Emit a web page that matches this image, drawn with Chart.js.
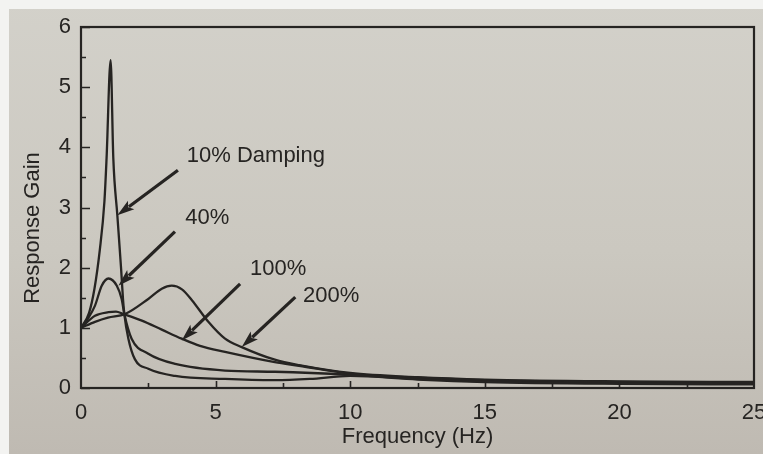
<!DOCTYPE html>
<html>
<head>
<meta charset="utf-8">
<script src="https://cdn.jsdelivr.net/npm/chart.js@4/dist/chart.umd.min.js"></script>
<style>
  html, body { margin: 0; padding: 0; }
  body {
    width: 763px; height: 454px; overflow: hidden;
    background: linear-gradient(to bottom, #d3d1ca 0%, #cbc8c0 55%, #bfbab2 100%);
  }
  .edge { position: absolute; left: 0; top: 0; width: 763px; height: 454px;
          border-top: 9px solid #f3f3f1; border-left: 9px solid #f3f3f1; box-sizing: border-box; }
  canvas { position: absolute; left: 0; top: 0; }
</style>
</head>
<body>
<div class="edge"></div>
<canvas id="gainChart" width="763" height="454"></canvas>
<script>
// frequency (Hz) and response gain for each damping ratio
const freq10 = [0, 0.3, 0.5, 0.7, 0.87, 0.95, 1.1, 1.2, 1.35, 1.49, 1.56, 1.61, 1.76, 2.0, 2.5, 3.5, 5.35, 7.2, 8.5, 10, 12.5, 15, 20, 25];
const gain10 = [1.0, 1.25, 1.65, 2.3, 3.1, 3.82, 5.45, 3.82, 2.87, 1.98, 1.48, 1.23, 0.82, 0.48, 0.32, 0.2, 0.15, 0.13, 0.15, 0.2, 0.14, 0.1, 0.07, 0.06];

const freq40 = [0, 0.25, 0.52, 0.77, 1.02, 1.33, 1.51, 1.61, 1.88, 2.5, 3.5, 5.35, 7.2, 10, 12.5, 15, 20, 25];
const gain40 = [1.0, 1.15, 1.37, 1.7, 1.82, 1.7, 1.48, 1.23, 0.82, 0.57, 0.4, 0.29, 0.27, 0.22, 0.15, 0.11, 0.08, 0.07];

const freq100 = [0, 0.52, 1.02, 1.3, 1.57, 2.26, 3.0, 3.74, 4.42, 5.35, 7.2, 8.1, 10, 12.5, 15, 20, 25];
const gain100 = [1.0, 1.2, 1.26, 1.27, 1.23, 1.12, 0.97, 0.82, 0.7, 0.6, 0.43, 0.37, 0.24, 0.17, 0.13, 0.1, 0.08];

const freq200 = [0, 0.52, 1.0, 1.64, 2.5, 3.0, 3.37, 3.75, 4.12, 4.73, 5.35, 5.97, 7.2, 8.1, 10, 12.5, 15, 20, 25];
const gain200 = [1.0, 1.1, 1.17, 1.23, 1.48, 1.65, 1.7, 1.64, 1.46, 1.1, 0.82, 0.68, 0.47, 0.38, 0.25, 0.18, 0.14, 0.11, 0.1];

const xTicks = [0, 5, 10, 15, 20, 25];
const yTicks = [0, 1, 2, 3, 4, 5, 6];

const calloutText = ['10% Damping', '40%', '100%', '200%'];

const ink = '#262422';
const font = "'Liberation Sans', Arial, sans-serif";

function pts(xs, ys) {
    return xs.map((x, i) => ({ x: x, y: ys[i] }));
}

function curve(label, xs, ys) {
    return {
        label: label,
        data: pts(xs, ys),
        borderColor: ink,
        borderWidth: 2.3,
        pointRadius: 0,
        fill: false,
        showLine: true,
        cubicInterpolationMode: 'monotone'
    };
}

// callouts: text anchor and arrow tail/tip, in axis units
const callouts = [
    { text: calloutText[0], at: [3.93, 3.85], from: [3.6, 3.62], to: [1.35, 2.87] },
    { text: calloutText[1], at: [3.87, 2.82], from: [3.49, 2.6], to: [1.39, 1.7] },
    { text: calloutText[2], at: [6.28, 1.98], from: [5.91, 1.73], to: [3.74, 0.79] },
    { text: calloutText[3], at: [8.25, 1.53], from: [7.96, 1.51], to: [5.97, 0.68] }
];

// frame, inward ticks, y title and arrow callouts
const framePlugin = {
    id: 'frame',
    afterDatasetsDraw(chart) {
        const { ctx, chartArea: a, scales: { x, y } } = chart;
        ctx.save();
        ctx.strokeStyle = ink;
        ctx.lineWidth = 2.2;
        ctx.strokeRect(a.left, a.top, a.right - a.left, a.bottom - a.top);

        ctx.beginPath();
        for (let v = 0; v <= 6; v += 0.5) {
            const py = Math.round(y.getPixelForValue(v)) + 0.5;
            const len = Number.isInteger(v) ? 9 : 5;
            ctx.moveTo(a.left, py);
            ctx.lineTo(a.left + len, py);
        }
        for (let v = 2.5; v < 25; v += 2.5) {
            const px = Math.round(x.getPixelForValue(v)) + 0.5;
            const len = v % 5 === 0 ? 7 : 5;
            ctx.moveTo(px, a.bottom);
            ctx.lineTo(px, a.bottom - len);
        }
        ctx.lineWidth = 1.6;
        ctx.stroke();

        ctx.fillStyle = ink;

        // y axis title sits a little below the middle of the axis
        ctx.save();
        ctx.translate(33, 228);
        ctx.rotate(-Math.PI / 2);
        ctx.font = '22px ' + font;
        ctx.textAlign = 'center';
        ctx.textBaseline = 'middle';
        ctx.fillText('Response Gain', 0, 0);
        ctx.restore();

        ctx.font = '22px ' + font;
        ctx.textBaseline = 'middle';
        callouts.forEach(c => {
            ctx.fillText(c.text, x.getPixelForValue(c.at[0]), y.getPixelForValue(c.at[1]));

            const x0 = x.getPixelForValue(c.from[0]), y0 = y.getPixelForValue(c.from[1]);
            const x1 = x.getPixelForValue(c.to[0]), y1 = y.getPixelForValue(c.to[1]);
            const ang = Math.atan2(y1 - y0, x1 - x0);
            const head = 18;
            ctx.beginPath();
            ctx.moveTo(x0, y0);
            ctx.lineTo(x1 - Math.cos(ang) * head * 0.8, y1 - Math.sin(ang) * head * 0.8);
            ctx.lineWidth = 3.2;
            ctx.stroke();
            ctx.beginPath();
            ctx.moveTo(x1, y1);
            ctx.lineTo(x1 - head * Math.cos(ang - 0.3), y1 - head * Math.sin(ang - 0.3));
            ctx.lineTo(x1 - head * 0.75 * Math.cos(ang), y1 - head * 0.75 * Math.sin(ang));
            ctx.lineTo(x1 - head * Math.cos(ang + 0.3), y1 - head * Math.sin(ang + 0.3));
            ctx.closePath();
            ctx.fill();
        });
        ctx.restore();
    }
};

new Chart(document.getElementById('gainChart'), {
    type: 'scatter',
    data: {
        datasets: [
            curve('10%', freq10, gain10),
            curve('40%', freq40, gain40),
            curve('100%', freq100, gain100),
            curve('200%', freq200, gain200)
        ]
    },
    options: {
        responsive: false,
        animation: false,
        layout: { padding: { left: 0, top: 27, right: 9, bottom: 0 } },
        plugins: { legend: { display: false }, tooltip: { enabled: false } },
        scales: {
            x: {
                type: 'linear',
                min: 0, max: 25,
                afterBuildTicks: s => { s.ticks = xTicks.map(v => ({ value: v })); },
                afterFit: s => { s.height = 66; s.paddingLeft = 0; s.paddingRight = 0; },
                grid: { display: false },
                border: { display: false },
                ticks: { color: ink, font: { family: font, size: 22 }, padding: 4 },
                title: { display: true, text: 'Frequency (Hz)', color: ink, font: { family: font, size: 22 }, padding: { top: 0, bottom: 4 } }
            },
            y: {
                min: 0, max: 6,
                afterBuildTicks: s => { s.ticks = yTicks.map(v => ({ value: v })); },
                afterFit: s => { s.width = 81; s.paddingTop = 0; s.paddingBottom = 0; },
                grid: { display: false },
                border: { display: false },
                ticks: { color: ink, font: { family: font, size: 22 }, padding: 2 }
            }
        }
    },
    plugins: [framePlugin]
});
</script>
</body>
</html>
